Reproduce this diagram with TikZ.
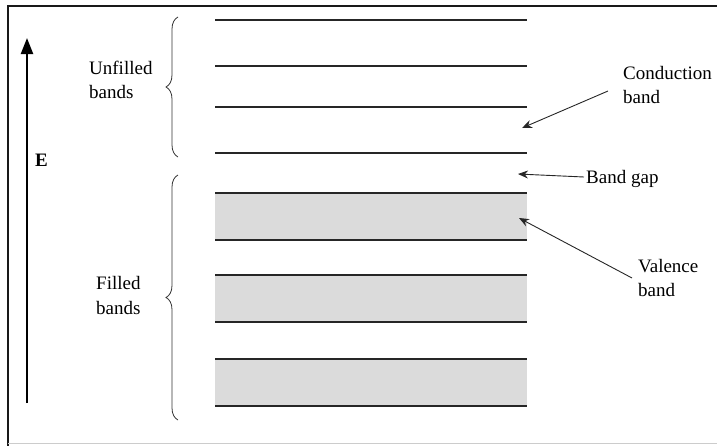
\documentclass[tikz,border=0pt]{standalone}
\usepackage{fontspec}
\setmainfont{Liberation Serif}
\newfontfamily\lblfont{Liberation Serif}
\usetikzlibrary{arrows.meta,decorations.pathreplacing}
\begin{document}
\begin{tikzpicture}[x=1pt,y=-1pt,
  lbl/.style={font=\lblfont\fontsize{19}{24}\selectfont, inner sep=0pt, anchor=base west},
  lvl/.style={draw=black!85, line width=1.1pt},
  bandfill/.style={fill=black!14, draw=none},
  pointer/.style={draw=black!85, line width=0.9pt, -{Stealth[length=10pt,width=8pt]}},
  curly/.style={draw=black!80, line width=0.8pt, decorate, decoration={brace,amplitude=12pt}}]
\useasboundingbox (0,0) rectangle (717,445);
% frame
\draw[line width=1.6pt, black!90] (8,448) -- (8,6) -- (722,6);
\draw[line width=0.6pt, black!20] (8,443) -- (722,443);
% energy axis
\coordinate (ebot) at (27,403);
\coordinate (etop) at (27,38);
\draw[line width=2.2pt, -{Triangle[length=16pt,width=12pt]}] (ebot) -- (etop);
\node[lbl, font=\lblfont\fontsize{19}{24}\selectfont\bfseries] (E) at (35,166) {E};
% unfilled levels
\foreach \y in {20,66,107,153} \draw[lvl] (215,\y) -- (527,\y);
% filled bands
\foreach \a/\b in {193/240,275/322,359/406} {
  \fill[bandfill] (215,\a) rectangle (527,\b);
  \draw[lvl] (215,\a) -- (527,\a);
  \draw[lvl] (215,\b) -- (527,\b);
}
% braces
\draw[curly] (178,157) -- (178,17);
\draw[curly] (178,420) -- (178,175);
% left labels
\node[lbl] (unf1) at (89,74) {Unfilled};
\node[lbl] (unf2) at (89,98) {bands};
\node[lbl] (fil1) at (96,289) {Filled};
\node[lbl] (fil2) at (96,314) {bands};
% right labels
\node[lbl] (cond1) at (623,79) {Conduction};
\node[lbl] (cond2) at (623,103) {band};
\node[lbl] (gap) at (586,183) {Band gap};
\node[lbl] (val1) at (638,272) {Valence};
\node[lbl] (val2) at (638,296) {band};
% pointers
\coordinate (cs) at (608,91);
\coordinate (ct) at (522,128);
\coordinate (gs) at (584,177);
\coordinate (gt) at (518,174);
\coordinate (vs) at (632,278);
\coordinate (vt) at (519,218);
\draw[pointer] (cs) -- (ct);
\draw[pointer] (gs) -- (gt);
\draw[pointer] (vs) -- (vt);
\end{tikzpicture}
\end{document}
